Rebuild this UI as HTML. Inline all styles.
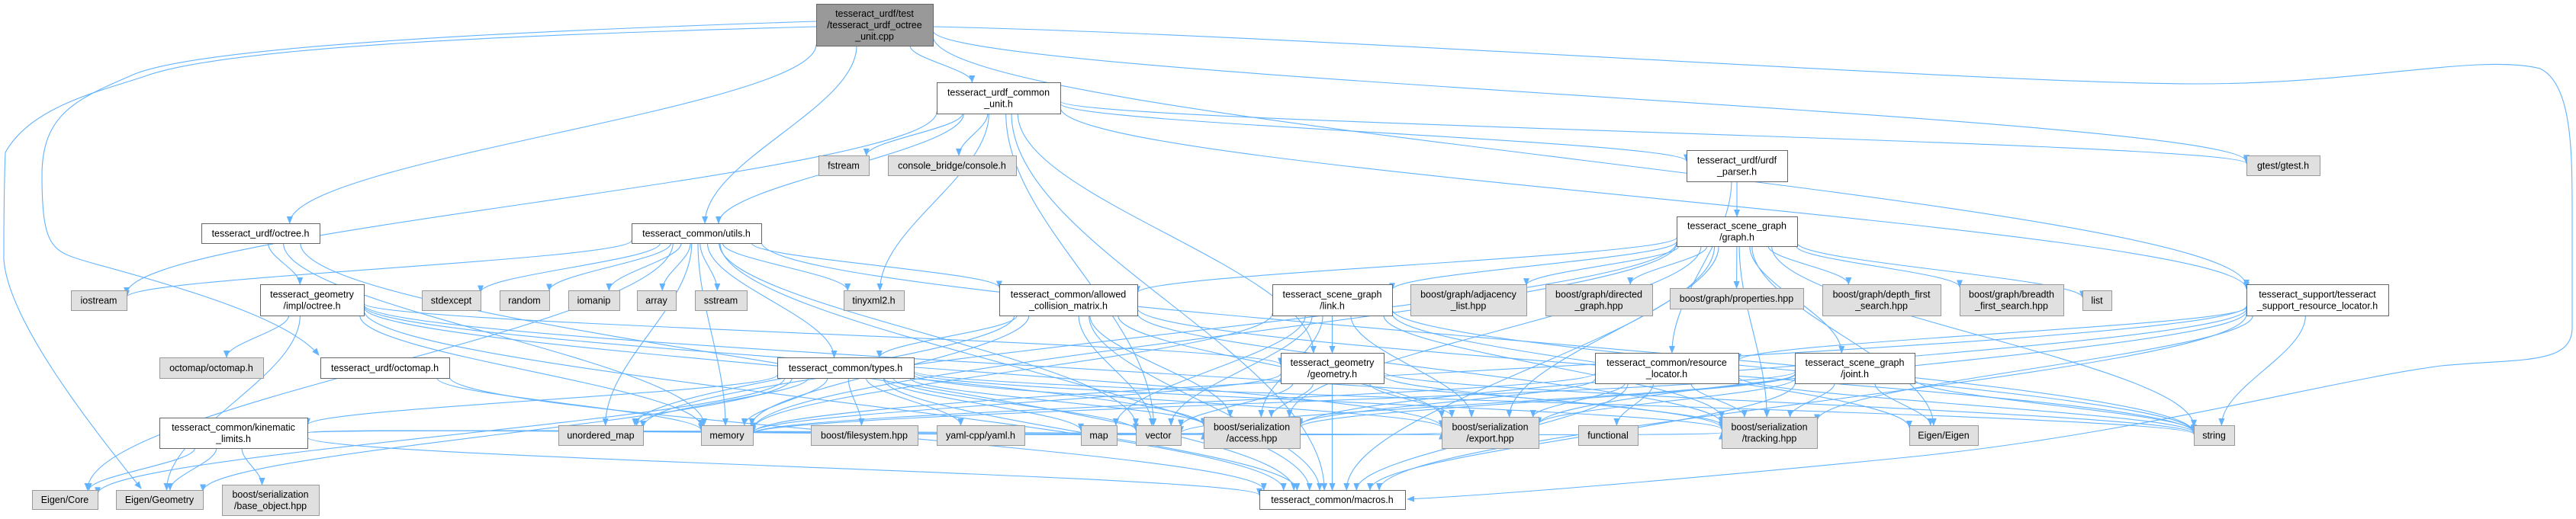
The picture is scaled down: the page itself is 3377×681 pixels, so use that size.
<!DOCTYPE html>
<html><head><meta charset="utf-8">
<style>
html,body{margin:0;padding:0;background:#fff;}
svg{display:block;}
text{font-family:"Liberation Sans",Arial,sans-serif;font-size:12.5px;fill:#000;}
</style></head>
<body>
<svg id="g" xmlns="http://www.w3.org/2000/svg" width="3377" height="681" viewBox="0 0 3377 681">
<defs>
<marker id="ah" markerWidth="10" markerHeight="8" refX="9" refY="4" orient="auto" markerUnits="userSpaceOnUse">
<path d="M0,0 L10,4 L0,8 z" fill="#63b3ff"/>
</marker>
</defs>
<g id="edges" fill="none" stroke="#63b3ff" stroke-width="1.1"></g>
<g id="nodes"></g>
</svg>
<script>
var N={
root:[1070,5,1223,60,["tesseract_urdf/test","/tesseract_urdf_octree","_unit.cpp"],2],
ucu:[1228,108,1390,149,["tesseract_urdf_common","_unit.h"],0],
octree:[264,293,419,319,["tesseract_urdf/octree.h"],0],
utils:[828,293,998,319,["tesseract_common/utils.h"],0],
fstream:[1073,204,1139,230,["fstream"],1],
console:[1164,204,1332,230,["console_bridge/console.h"],1],
parser:[2211,197,2343,238,["tesseract_urdf/urdf","_parser.h"],0],
gtest:[2945,204,3041,230,["gtest/gtest.h"],1],
graph:[2198,284,2356,323,["tesseract_scene_graph","/graph.h"],0],
iostream:[93,381,166,407,["iostream"],1],
impl:[341,373,477,414,["tesseract_geometry","/impl/octree.h"],0],
stdexcept:[553,381,630,407,["stdexcept"],1],
random:[655,381,720,407,["random"],1],
iomanip:[745,381,812,407,["iomanip"],1],
array:[835,381,886,407,["array"],1],
sstream:[911,381,979,407,["sstream"],1],
tinyxml:[1106,381,1185,407,["tinyxml2.h"],1],
acm:[1310,373,1491,414,["tesseract_common/allowed","_collision_matrix.h"],0],
link:[1668,373,1825,414,["tesseract_scene_graph","/link.h"],0],
adj:[1849,373,2001,414,["boost/graph/adjacency","_list.hpp"],1],
dir:[2026,373,2166,414,["boost/graph/directed","_graph.hpp"],1],
props:[2189,378,2364,405,["boost/graph/properties.hpp"],1],
dfs:[2389,373,2544,414,["boost/graph/depth_first","_search.hpp"],1],
bfs:[2569,373,2705,414,["boost/graph/breadth","_first_search.hpp"],1],
list:[2730,381,2768,407,["list"],1],
srl:[2945,373,3131,414,["tesseract_support/tesseract","_support_resource_locator.h"],0],
octomap:[209,469,345,496,["octomap/octomap.h"],1],
uoctomap:[420,469,589,496,["tesseract_urdf/octomap.h"],0],
types:[1019,469,1198,496,["tesseract_common/types.h"],0],
geom:[1679,463,1814,503,["tesseract_geometry","/geometry.h"],0],
rl:[2091,463,2279,503,["tesseract_common/resource","_locator.h"],0],
joint:[2353,463,2510,503,["tesseract_scene_graph","/joint.h"],0],
kin:[209,548,403,588,["tesseract_common/kinematic","_limits.h"],0],
umap:[732,558,843,584,["unordered_map"],1],
memory:[919,558,987,584,["memory"],1],
fs:[1063,558,1203,584,["boost/filesystem.hpp"],1],
yaml:[1228,558,1343,584,["yaml-cpp/yaml.h"],1],
map:[1417,558,1464,584,["map"],1],
vector:[1489,558,1548,584,["vector"],1],
access:[1578,547,1704,588,["boost/serialization","/access.hpp"],1],
export:[1890,547,2017,588,["boost/serialization","/export.hpp"],1],
functional:[2069,558,2147,584,["functional"],1],
tracking:[2257,547,2382,588,["boost/serialization","/tracking.hpp"],1],
eigen:[2503,558,2593,584,["Eigen/Eigen"],1],
string:[2876,558,2929,584,["string"],1],
core:[42,643,128,668,["Eigen/Core"],1],
egeom:[152,643,266,668,["Eigen/Geometry"],1],
base:[291,636,418,676,["boost/serialization","/base_object.hpp"],1],
macros:[1651,643,1842,668,["tesseract_common/macros.h"],0]
};
var E=[
["root","ucu"],["root","octree"],["root","utils"],["root","uoctomap","L1"],["root","egeom","L2"],["root","gtest"],["root","srl"],["root","macros","R"],
["ucu","iostream"],["ucu","fstream"],["ucu","console"],["ucu","tinyxml"],["ucu","utils"],["ucu","geom"],["ucu","parser"],["ucu","gtest"],["ucu","srl"],["ucu","macros"],["ucu","vector"],
["octree","impl"],["octree","memory"],["octree","macros"],
["utils","iostream"],["utils","stdexcept"],["utils","random"],["utils","iomanip"],["utils","array"],["utils","sstream"],["utils","tinyxml"],["utils","acm"],["utils","types"],["utils","core"],["utils","vector"],["utils","string"],["utils","memory"],["utils","macros"],["utils","umap"],
["impl","octomap"],["impl","geom"],["impl","memory"],["impl","egeom"],["impl","macros"],["impl","access"],["impl","export"],["impl","tracking"],
["uoctomap","memory"],["uoctomap","macros"],
["types","kin"],["types","umap"],["types","memory"],["types","fs"],["types","yaml"],["types","map"],["types","vector"],["types","access"],["types","export"],["types","tracking"],["types","string"],["types","core"],["types","egeom"],["types","macros"],
["kin","core"],["kin","egeom"],["kin","base"],["kin","macros"],["kin","access"],["kin","export"],["kin","tracking"],
["acm","types"],["acm","umap"],["acm","vector"],["acm","access"],["acm","export"],["acm","tracking"],["acm","string"],["acm","macros"],["acm","memory"],
["link","geom"],["link","map"],["link","vector"],["link","access"],["link","export"],["link","tracking"],["link","eigen"],["link","string"],["link","memory"],["link","macros"],
["geom","memory"],["geom","vector"],["geom","access"],["geom","export"],["geom","tracking"],["geom","string"],["geom","macros"],
["rl","functional"],["rl","memory"],["rl","access"],["rl","export"],["rl","tracking"],["rl","string"],["rl","macros"],
["joint","memory"],["joint","vector"],["joint","access"],["joint","export"],["joint","tracking"],["joint","eigen"],["joint","string"],["joint","macros"],
["graph","acm"],["graph","link"],["graph","joint"],["graph","adj"],["graph","dir"],["graph","props"],["graph","dfs"],["graph","bfs"],["graph","list"],["graph","umap"],["graph","access"],["graph","export"],["graph","tracking"],["graph","string"],["graph","macros"],["graph","memory"],["graph","eigen"],
["parser","graph"],["parser","rl"],
["srl","rl"],["srl","memory"],["srl","export"],["srl","tracking"],["srl","string"],["srl","macros"],["srl","access"]
];
var NS="http://www.w3.org/2000/svg";
var eg=document.getElementById("edges"),ng=document.getElementById("nodes");
function c(n){var b=N[n];return [(b[0]+b[2])/2,(b[1]+b[3])/2];}
function bnd(n,tx,ty){var b=N[n],cx=(b[0]+b[2])/2,cy=(b[1]+b[3])/2,hw=(b[2]-b[0])/2,hh=(b[3]-b[1])/2;
var dx=tx-cx,dy=ty-cy;if(dx==0&&dy==0)return[cx,cy];var s=Math.min(dx?hw/Math.abs(dx):1e9,dy?hh/Math.abs(dy):1e9);return[cx+dx*s,cy+dy*s];}
E.forEach(function(e){
var p=document.createElementNS(NS,"path"),d;
if(e[2]=="L1"){d="M1070,28 C700,40 250,60 170,100 C100,130 55,150 55,230 C55,330 70,330 120,345 C250,380 380,420 418,466";}
else if(e[2]=="L2"){d="M1070,35 C700,45 300,60 190,100 C130,120 40,140 7,200 C5,250 5,300 5,340 C10,420 120,560 185,641";}
else if(e[2]=="R"){d="M1223,35 C1700,45 2600,110 2880,110 C3100,110 3250,70 3330,90 C3372,110 3372,200 3372,280 C3372,380 3372,420 3372,430 C3372,480 3300,470 3200,480 C3050,500 2800,570 2500,600 C2200,630 1950,650 1845,655";}
else{var a=c(e[0]),b=c(e[1]);var s=bnd(e[0],b[0],b[1]),t=bnd(e[1],a[0],a[1]);
var dy=t[1]-s[1];var k=Math.max(Math.abs(dy)*0.35,10);
d="M"+s[0].toFixed(1)+","+s[1].toFixed(1)+" C"+s[0].toFixed(1)+","+(s[1]+(dy>=0?k:-k)).toFixed(1)+" "+t[0].toFixed(1)+","+(t[1]-(dy>=0?k:-k)).toFixed(1)+" "+t[0].toFixed(1)+","+t[1].toFixed(1);}
p.setAttribute("d",d);p.setAttribute("marker-end","url(#ah)");eg.appendChild(p);});
for(var k in N){var b=N[k];var r=document.createElementNS(NS,"rect");
r.setAttribute("x",b[0]+0.5);r.setAttribute("y",b[1]+0.5);r.setAttribute("width",b[2]-b[0]);r.setAttribute("height",b[3]-b[1]);
r.setAttribute("fill",b[5]==2?"#999999":(b[5]==1?"#e0e0e0":"#ffffff"));r.setAttribute("stroke",b[5]==1?"#999999":"#666666");r.setAttribute("stroke-width","1");ng.appendChild(r);
var L=b[4],cx=(b[0]+b[2])/2,cy=(b[1]+b[3])/2,lh=15,y0=cy-(L.length-1)*lh/2+4.5;
L.forEach(function(s,i){var t=document.createElementNS(NS,"text");t.setAttribute("x",cx);t.setAttribute("y",y0+i*lh);t.setAttribute("text-anchor","middle");t.textContent=s;ng.appendChild(t);});}
</script>
</body></html>
